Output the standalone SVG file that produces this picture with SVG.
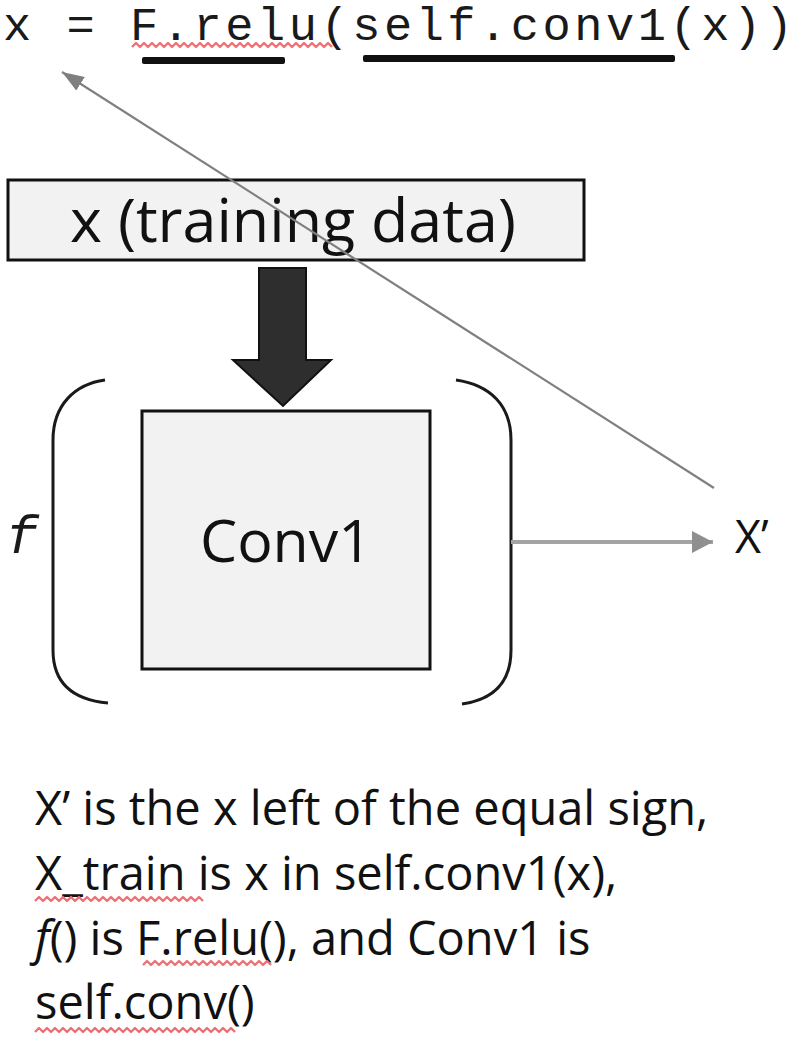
<svg xmlns="http://www.w3.org/2000/svg" width="810" height="1041" viewBox="0 0 810 1041">
<style>
.code{font-family:"Liberation Mono","Courier New",monospace;font-size:47px;fill:#1a1a1a}
.sans{font-family:"Open Sans","Liberation Sans",sans-serif;fill:#111}
.box{fill:#f2f2f2;stroke:#111;stroke-width:3}
.brk{fill:none;stroke:#1a1a1a;stroke-width:3}
.sq{fill:none;stroke:#ee7074;stroke-width:2.4;stroke-linejoin:round}
.ul{fill:#111}
</style>
<defs>
<marker id="hdiag" markerUnits="userSpaceOnUse" markerWidth="24" markerHeight="18" refX="22" refY="8" orient="auto">
<path d="M0,0 L22,8 L0,16 z" fill="#7f7f7f"/>
</marker>
<marker id="hhor" markerUnits="userSpaceOnUse" markerWidth="24" markerHeight="24" refX="21" refY="11" orient="auto">
<path d="M0,0 L21,11 L0,22 z" fill="#8f8f8f"/>
</marker>
</defs>
<rect width="810" height="1041" fill="#fff"/>

<g id="code">
<text class="code" x="3" y="40" textLength="790" lengthAdjust="spacing" xml:space="preserve">x = F.relu(self.conv1(x))</text>
<path class="sq" d="M132,47 l4,-4 4,4 4,-4 4,4 4,-4 4,4 4,-4 4,4 4,-4 4,4 4,-4 4,4 4,-4 4,4 4,-4 4,4 4,-4 4,4 4,-4 4,4 4,-4 4,4 4,-4 4,4 4,-4 4,4 4,-4 4,4 4,-4 4,4 4,-4 4,4 4,-4 4,4 4,-4 4,4 4,-4 4,4 4,-4 4,4 4,-4 4,4 4,-4 4,4 4,-4 4,4 4,-4 4,4 4,-4 4,4"/>
<rect class="ul" x="142" y="57" width="143" height="7" rx="2"/>
<rect class="ul" x="363" y="55" width="312" height="7" rx="2"/>
</g>

<g id="training-data">
<rect class="box" x="8" y="180" width="576" height="80"/>
<text class="sans" x="293" y="242" font-size="61" text-anchor="middle">x (training data)</text>
</g>

<g id="block-arrow">
<path d="M259,268 L306,268 L306,360 L331,360 L283,406 L233,360 L259,360 z" fill="#2e2e2e" stroke="#111" stroke-width="2" stroke-linejoin="miter"/>
</g>

<g id="f-brackets">
<text x="6" y="553" font-family="'Liberation Mono','Courier New',monospace" font-size="53.5" font-style="italic" fill="#1a1a1a">f</text>
<path class="brk" d="M105,380 C75,384 53,405 53,440 L53,650 C53,685 75,700 108,703"/>
<path class="brk" d="M456,380 C490,385 511,405 511,440 L511,650 C511,685 490,700 462,704"/>
</g>

<g id="conv1">
<rect class="box" x="142" y="411" width="288" height="258"/>
<text class="sans" x="286" y="562" font-size="59" text-anchor="middle">Conv1</text>
</g>

<g id="xprime">
<text class="sans" x="735" y="553" font-size="45">X’</text>
</g>

<g id="connectors">
<line x1="714" y1="488" x2="62" y2="72" stroke="#808080" stroke-width="2.2" marker-end="url(#hdiag)"/>
<line x1="511" y1="542" x2="713" y2="542" stroke="#a3a3a3" stroke-width="4" marker-end="url(#hhor)"/>
</g>

<g id="notes">
<text class="sans" x="35" y="825" font-size="47">X’ is the x left of the equal sign,</text>
<text class="sans" x="35" y="890" font-size="47">X_train is x in self.conv1(x),</text>
<text class="sans" x="35" y="955" font-size="47"><tspan font-style="italic">f</tspan>() is F.relu(), and Conv1 is</text>
<text class="sans" x="35" y="1019" font-size="47">self.conv()</text>
<path class="sq" d="M35,901 l4,-4 4,4 4,-4 4,4 4,-4 4,4 4,-4 4,4 4,-4 4,4 4,-4 4,4 4,-4 4,4 4,-4 4,4 4,-4 4,4 4,-4 4,4 4,-4 4,4 4,-4 4,4 4,-4 4,4 4,-4 4,4 4,-4 4,4 4,-4 4,4 4,-4 4,4 4,-4 4,4 4,-4 4,4 4,-4 4,4 4,-4 4,4"/>
<path class="sq" d="M143,965 l4,-4 4,4 4,-4 4,4 4,-4 4,4 4,-4 4,4 4,-4 4,4 4,-4 4,4 4,-4 4,4 4,-4 4,4 4,-4 4,4 4,-4 4,4 4,-4 4,4 4,-4 4,4 4,-4 4,4 4,-4 4,4 4,-4 4,4 4,-4 4,4"/>
<path class="sq" d="M35,1032 l4,-4 4,4 4,-4 4,4 4,-4 4,4 4,-4 4,4 4,-4 4,4 4,-4 4,4 4,-4 4,4 4,-4 4,4 4,-4 4,4 4,-4 4,4 4,-4 4,4 4,-4 4,4 4,-4 4,4 4,-4 4,4 4,-4 4,4 4,-4 4,4 4,-4 4,4 4,-4 4,4 4,-4 4,4 4,-4 4,4 4,-4 4,4 4,-4 4,4 4,-4 4,4 4,-4 4,4 4,-4 4,4"/>
</g>
</svg>
